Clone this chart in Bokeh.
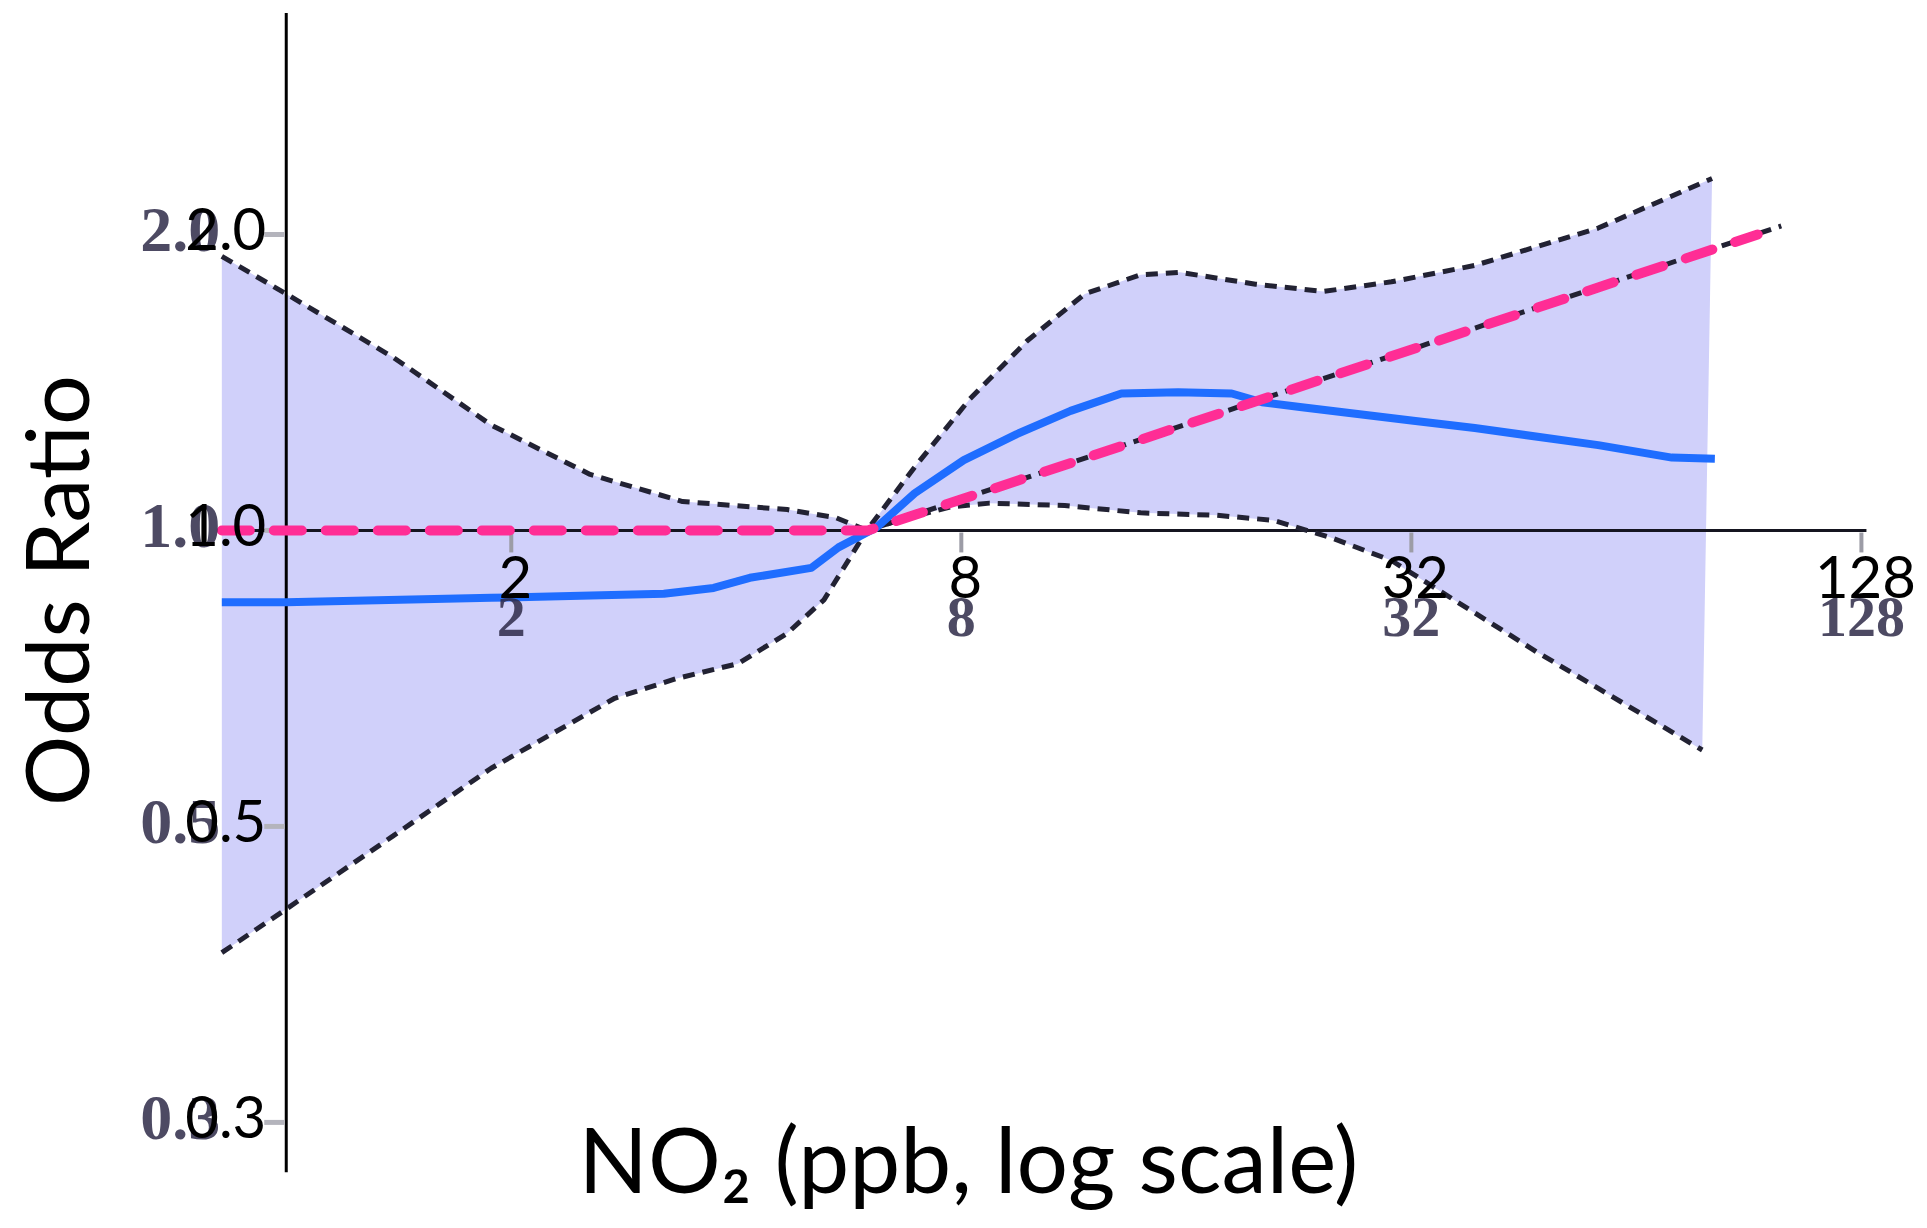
import math
from bokeh.plotting import figure
from bokeh.models import Range1d, Label
from bokeh.core.properties import value
from bokeh.embed import file_html
from bokeh.resources import INLINE

# ---------------- data ----------------
upper_x = [0.82, 1.0, 1.39, 1.88, 2.55, 3.39, 4.68, 5.44, 5.98, 6.93, 8.21, 9.81,
           11.7, 13.9, 15.7, 19.8, 24.4, 30.1, 38.9, 56.9, 80.8]
upper_y = [1.90, 1.74, 1.50, 1.28, 1.14, 1.07, 1.05, 1.03, 1.00, 1.16, 1.36, 1.56,
           1.74, 1.82, 1.83, 1.78, 1.75, 1.79, 1.86, 2.03, 2.28]

lower_x = [0.82, 1.0, 1.39, 1.88, 2.75, 3.33, 4.02, 4.68, 5.24, 5.98, 6.60, 7.76,
           8.73, 11.0, 13.9, 17.6, 20.9, 24.9, 30.1, 47.0, 78.4]
lower_y = [0.372, 0.412, 0.489, 0.573, 0.675, 0.707, 0.732, 0.786, 0.850, 1.0, 1.024, 1.057,
           1.066, 1.060, 1.042, 1.036, 1.024, 0.984, 0.932, 0.753, 0.598]

spline_x = [0.82, 1.0, 1.88, 3.20, 3.73, 4.17, 5.04, 5.48, 6.16, 6.93, 8.06, 9.49,
            11.2, 13.1, 15.6, 18.4, 20.2, 22.7, 32.2, 38.9, 56.9, 71.4, 81.5]
spline_y = [0.845, 0.845, 0.854, 0.862, 0.874, 0.895, 0.916, 0.961, 1.007, 1.091, 1.179, 1.253,
            1.323, 1.378, 1.382, 1.378, 1.350, 1.335, 1.293, 1.271, 1.221, 1.186, 1.183]

linear_x = [0.82, 6.0, 93.0]
linear_y = [1.0, 1.0, 2.0]
linear_black_x = [6.0, 100.0]
linear_black_y = [1.0, 2.04]

x_ticks = [2, 8, 32, 128]
x_tick_labels = ["2", "8", "32", "128"]
y_ticks = [0.25, 0.5, 1.0, 2.0]
y_tick_labels = ["0.3", "0.5", "1.0", "2.0"]

x_title = "NO\u2082 (ppb, log scale)"
y_title = "Odds Ratio"

# ---------------- figure ----------------
W, H = 1927, 1228
p = figure(width=W, height=H, x_axis_type="log", y_axis_type="log",
           x_range=Range1d(0.4147, 156.9), y_range=Range1d(0.1950, 3.459),
           x_axis_location=None, y_axis_location=None,
           toolbar_location=None, output_backend="svg", min_border=0,
           background_fill_color="white", border_fill_color="white",
           outline_line_color=None)
p.xgrid.visible = False
p.ygrid.visible = False

px_per_doubling_x = 225.0
px_per_doubling_y = 296.0

# confidence band
band_x = upper_x + lower_x[::-1]
band_y = upper_y + lower_y[::-1]
p.patch(band_x, band_y, fill_color="#d0d0fa", line_color=None)

# axes lines (drawn through the data scales)
p.line([1.0, 1.0], [0.2224, 3.36], line_color="black", line_width=3)
p.line([0.82, 130.0], [1.0, 1.0], line_color="#151520", line_width=3)

# tick marks
tx = 2 ** (-22 / px_per_doubling_x)
p.segment(x0=[1.0 * tx] * len(y_ticks), y0=y_ticks, x1=[0.995] * len(y_ticks), y1=y_ticks,
          line_color="#b4b4bc", line_width=5)
ty = 2 ** (-22 / px_per_doubling_y)
p.segment(x0=x_ticks, y0=[1.0 * ty] * len(x_ticks), x1=x_ticks, y1=[0.995] * len(x_ticks),
          line_color="#9c9ca6", line_width=4)

# CI dashed lines
p.line(upper_x, upper_y, line_color="#222233", line_width=5, line_dash="12 8")
p.line(lower_x, lower_y, line_color="#222233", line_width=5, line_dash="12 8")

# linear model (black dashed under pink)
p.line(linear_black_x, linear_black_y, line_color="#222233", line_width=5, line_dash="12 8")

# spline (blue)
p.line(spline_x, spline_y, line_color="#1f6dff", line_width=8, line_join="round")

# linear (pink dashed)
p.line(linear_x, linear_y, line_color="#ff2d95", line_width=10, line_dash="28 24",
       line_cap="round")

# blurred duplicate tick labels (bold serif)
p.text(x=[1.0] * len(y_ticks), y=y_ticks, text=y_tick_labels,
       text_align="right", text_baseline="middle", x_offset=-66, y_offset=-4,
       text_font=value("Liberation Serif"), text_font_style="bold",
       text_font_size=value("64px"), text_color="#2e2a48", text_alpha=0.85)
p.text(x=x_ticks, y=[1.0] * len(x_ticks), text=x_tick_labels,
       text_align="center", text_baseline="middle", x_offset=0, y_offset=87,
       text_font=value("Liberation Serif"), text_font_style="bold",
       text_font_size=value("58px"), text_color="#2e2a48", text_alpha=0.85)

# main tick labels
p.text(x=[1.0] * len(y_ticks), y=y_ticks, text=y_tick_labels,
       text_align="right", text_baseline="middle", x_offset=-20, y_offset=-5,
       text_font=value("Lato"), text_font_size=value("58px"), text_color="black")
p.text(x=x_ticks, y=[1.0] * len(x_ticks), text=x_tick_labels,
       text_align="center", text_baseline="middle", x_offset=4, y_offset=47,
       text_font=value("Lato"), text_font_size=value("58px"), text_color="black")

# titles
p.add_layout(Label(x=968, y=71, x_units="screen", y_units="screen", text=x_title,
                   text_align="center", text_baseline="alphabetic",
                   text_font="Lato", text_font_size="91px", text_color="black"))
p.add_layout(Label(x=54, y=H - 590, x_units="screen", y_units="screen", text=y_title,
                   angle=math.pi / 2, text_align="center", text_baseline="middle",
                   text_font="Lato", text_font_size="88px", text_color="black"))

open("out.html", "w").write(file_html(p, INLINE))
